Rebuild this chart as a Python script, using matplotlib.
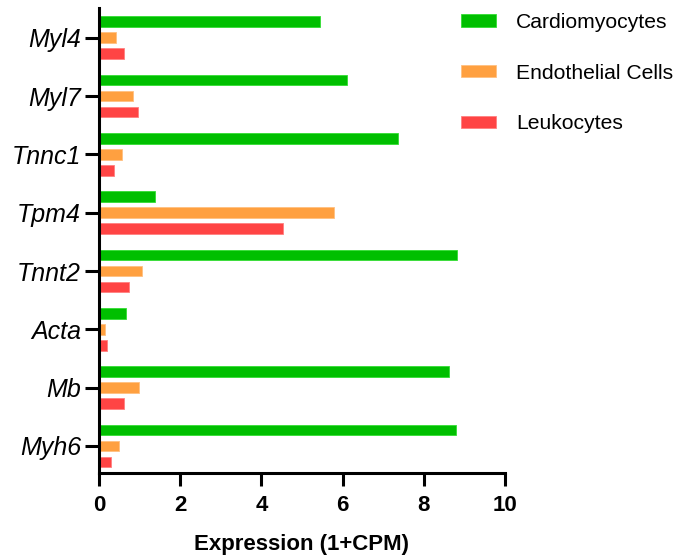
import numpy as np
import matplotlib
matplotlib.use("Agg")
import matplotlib.pyplot as plt

plt.rcParams['font.family'] = ['Liberation Sans', 'DejaVu Sans']

# Data
genes = ['Myl4', 'Myl7', 'Tnnc1', 'Tpm4', 'Tnnt2', 'Acta', 'Mb', 'Myh6']
cardiomyocytes = [5.44, 6.11, 7.37, 1.39, 8.82, 0.67, 8.61, 8.79]
endothelial = [0.43, 0.83, 0.57, 5.80, 1.05, 0.14, 0.99, 0.49]
leukocytes = [0.62, 0.97, 0.38, 4.54, 0.73, 0.20, 0.62, 0.29]

series = [
    ('Cardiomyocytes', cardiomyocytes, '#00BF00', '#33DD33'),
    ('Endothelial Cells', endothelial, '#FFA040', '#FFC080'),
    ('Leukocytes', leukocytes, '#FF4444', '#FF8080'),
]

fig = plt.figure(figsize=(6.77, 5.58), dpi=100)
ax = fig.add_axes([99 / 677, 1 - 473 / 558, 406 / 677, 465 / 558])

n = len(genes)
y = np.arange(n)[::-1]  # first gene on top
bar_h = 0.183
offsets = [0.274, 0.0, -0.274]

for (name, vals, col, edge), off in zip(series, offsets):
    ax.barh(y + off, vals, height=bar_h, color=col, edgecolor=edge,
            linewidth=0.6, label=name)

ax.set_xlim(0, 10)
ax.set_ylim(-0.463, 7.51)
ax.set_xticks([0, 2, 4, 6, 8, 10])
ax.set_yticks(y)
ax.set_yticklabels(genes, fontsize=18, fontstyle='italic')
for lbl in ax.get_xticklabels():
    lbl.set_fontweight('bold')
ax.tick_params(axis='x', labelsize=16, width=2.2, length=9, pad=7)
ax.tick_params(axis='y', width=2.2, length=10, pad=3)

for s in ['top', 'right']:
    ax.spines[s].set_visible(False)
for s in ['left', 'bottom']:
    ax.spines[s].set_linewidth(2.2)

ax.set_xlabel('Expression (1+CPM)', fontsize=16, fontweight='bold', labelpad=13)

leg = ax.legend(loc='upper left', bbox_to_anchor=(442 / 677, 1 + 6 / 558),
                bbox_transform=fig.transFigure, frameon=False, fontsize=15.2,
                handlelength=1.65, handleheight=0.5, handletextpad=0.95,
                labelspacing=1.5)

fig.savefig('out.png', dpi=100)
